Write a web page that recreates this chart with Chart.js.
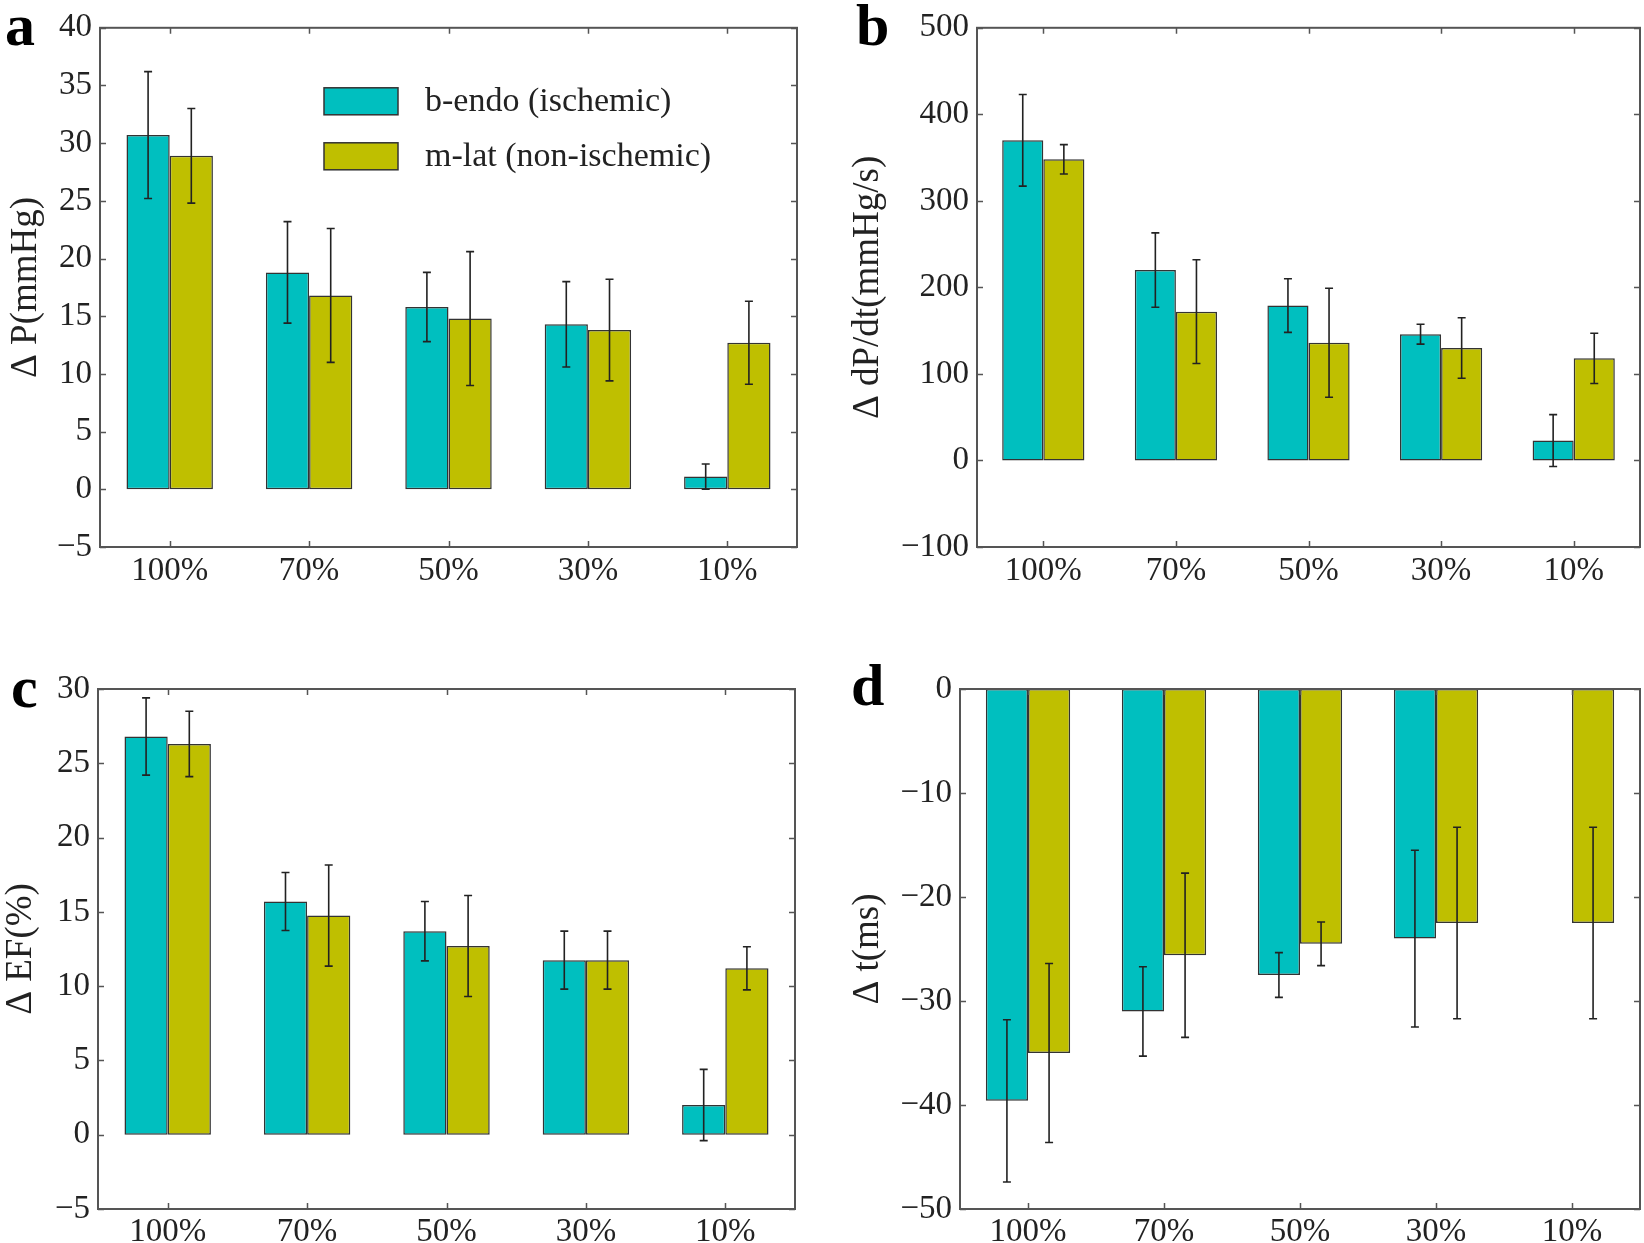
<!DOCTYPE html>
<html>
<head>
<meta charset="utf-8">
<script src="https://cdn.jsdelivr.net/npm/chart.js@4.4.1/dist/chart.umd.min.js"></script>
<style>
  html, body { margin: 0; padding: 0; background: #fff; }
  body { width: 1644px; height: 1243px; position: relative; overflow: hidden; font-family: 'Liberation Serif', 'DejaVu Serif', serif; }
  .panel { position: absolute; }
  .lbl { position: absolute; font-family: 'Liberation Serif', 'DejaVu Serif', serif; font-weight: bold; font-size: 60px; line-height: 60px; color: #000; }
</style>
</head>
<body>
<div class="panel" style="left:0;top:0;width:822px;height:620px"><canvas id="ca" width="822" height="620"></canvas></div>
<div class="panel" style="left:822px;top:0;width:822px;height:620px"><canvas id="cb" width="822" height="620"></canvas></div>
<div class="panel" style="left:0;top:620px;width:822px;height:623px"><canvas id="cc" width="822" height="623"></canvas></div>
<div class="panel" style="left:822px;top:620px;width:822px;height:623px"><canvas id="cd" width="822" height="623"></canvas></div>
<div class="lbl" style="left:5px;top:-5px">a</div>
<div class="lbl" style="left:856px;top:-5px">b</div>
<div class="lbl" style="left:11px;top:657px">c</div>
<div class="lbl" style="left:851px;top:655px">d</div>
<script>
// ---- data ----
const categories = ['100%', '70%', '50%', '30%', '10%'];
const seriesNames = ['b-endo (ischemic)', 'm-lat (non-ischemic)'];

// panel a: ΔP (mmHg)
const dP_endo     = [30.7, 18.8, 15.8, 14.3, 1.1];
const dP_endo_err = [5.5, 4.4, 3.0, 3.7, 1.1];
const dP_lat      = [28.9, 16.8, 14.8, 13.8, 12.7];
const dP_lat_err  = [4.1, 5.8, 5.8, 4.4, 3.6];
const dP_ticks    = [-5, 0, 5, 10, 15, 20, 25, 30, 35, 40];

// panel b: ΔdP/dt (mmHg/s)
const dPdt_endo     = [370, 220, 179, 146, 23];
const dPdt_endo_err = [53, 43, 31, 11.5, 30];
const dPdt_lat      = [348, 172, 136, 130, 118];
const dPdt_lat_err  = [17, 60, 63, 35, 29];
const dPdt_ticks    = [-100, 0, 100, 200, 300, 400, 500];

// panel c: ΔEF (%)
const EF_endo     = [26.8, 15.7, 13.7, 11.75, 2.0];
const EF_endo_err = [2.6, 1.95, 2.0, 1.95, 2.4];
const EF_lat      = [26.3, 14.75, 12.7, 11.75, 11.2];
const EF_lat_err  = [2.2, 3.4, 3.4, 1.95, 1.45];
const EF_ticks    = [-5, 0, 5, 10, 15, 20, 25, 30];

// panel d: Δt (ms)
const dt_endo     = [-39.6, -31.0, -27.5, -24.0, 0];
const dt_endo_err = [7.8, 4.3, 2.15, 8.5, 0];
const dt_lat      = [-35.0, -25.6, -24.5, -22.5, -22.5];
const dt_lat_err  = [8.6, 7.9, 2.1, 9.2, 9.2];
const dt_ticks    = [-50, -40, -30, -20, -10, 0];

const seriesColors = ['#00bfbf', '#bfbf00'];
const FONT_FAMILY = "'Liberation Serif', 'DejaVu Serif', serif";

// ---- plugins ----
const errorBarsPlugin = {
  id: 'errorBars',
  afterDatasetsDraw(chart) {
    const ctx = chart.ctx, y = chart.scales.y;
    ctx.save();
    ctx.strokeStyle = '#222';
    ctx.lineWidth = 1.6;
    chart.data.datasets.forEach((ds, di) => {
      const meta = chart.getDatasetMeta(di);
      if (!ds.errorBars) return;
      meta.data.forEach((el, i) => {
        const e = ds.errorBars[i];
        if (!e) return;
        const v = ds.data[i];
        const x = el.x;
        const y1 = y.getPixelForValue(v + e), y2 = y.getPixelForValue(v - e);
        ctx.beginPath();
        ctx.moveTo(x, y1); ctx.lineTo(x, y2);
        ctx.moveTo(x - 4, y1); ctx.lineTo(x + 4, y1);
        ctx.moveTo(x - 4, y2); ctx.lineTo(x + 4, y2);
        ctx.stroke();
      });
    });
    ctx.restore();
  }
};

const framePlugin = {
  id: 'frame',
  afterDatasetsDraw(chart) {
    const ctx = chart.ctx, a = chart.chartArea, x = chart.scales.x, y = chart.scales.y;
    const L = 6;
    ctx.save();
    ctx.strokeStyle = '#555';
    ctx.lineWidth = 1.5;
    ctx.beginPath();
    x.ticks.forEach((t, i) => {
      const px = Math.round(x.getPixelForTick(i)) + 0.5;
      ctx.moveTo(px, a.bottom); ctx.lineTo(px, a.bottom - L);
      ctx.moveTo(px, a.top); ctx.lineTo(px, a.top + L);
    });
    y.ticks.forEach((t, i) => {
      const py = Math.round(y.getPixelForTick(i)) + 0.5;
      ctx.moveTo(a.left, py); ctx.lineTo(a.left + L, py);
      ctx.moveTo(a.right, py); ctx.lineTo(a.right - L, py);
    });
    ctx.stroke();
    ctx.lineWidth = 2;
    ctx.strokeRect(a.left, a.top, a.right - a.left, a.bottom - a.top);
    ctx.restore();
  }
};

const legendPlugin = {
  id: 'innerLegend',
  afterDraw(chart, args, opts) {
    if (!opts || !opts.show) return;
    const ctx = chart.ctx, a = chart.chartArea;
    ctx.save();
    chart.data.datasets.forEach((ds, i) => {
      const bx = a.left + 224, by = a.top + 60 + i * 55, bw = 74, bh = 27;
      ctx.fillStyle = ds.backgroundColor;
      ctx.fillRect(bx, by, bw, bh);
      ctx.strokeStyle = '#333';
      ctx.lineWidth = 1.5;
      ctx.strokeRect(bx, by, bw, bh);
      ctx.fillStyle = '#222';
      ctx.font = "34px " + FONT_FAMILY;
      ctx.textBaseline = 'middle';
      ctx.textAlign = 'left';
      ctx.fillText(ds.label, bx + 101, by + bh / 2 + 1);
    });
    ctx.restore();
  }
};

function fmt(v) { return v < 0 ? '\u2212' + Math.abs(v) : String(v); }

function makeChart(id, cfg) {
  const tickFont = { family: FONT_FAMILY, size: 33 };
  new Chart(document.getElementById(id), {
    type: 'bar',
    data: {
      labels: categories,
      datasets: [
        { label: seriesNames[0], data: cfg.a, errorBars: cfg.ae, backgroundColor: seriesColors[0],
          borderColor: '#333', borderWidth: 1.5, borderSkipped: false,
          categoryPercentage: 0.62, barPercentage: 1.0 },
        { label: seriesNames[1], data: cfg.b, errorBars: cfg.be, backgroundColor: seriesColors[1],
          borderColor: '#333', borderWidth: 1.5, borderSkipped: false,
          categoryPercentage: 0.62, barPercentage: 1.0 }
      ]
    },
    options: {
      responsive: false,
      animation: false,
      events: [],
      layout: { padding: { left: 0, top: cfg.padTop, right: cfg.padRight, bottom: 0 } },
      plugins: {
        legend: { display: false },
        tooltip: { enabled: false },
        innerLegend: { show: !!cfg.legend }
      },
      scales: {
        x: {
          grid: { display: false, drawTicks: false },
          border: { display: false },
          ticks: { font: tickFont, color: '#222', padding: cfg.xPad, maxRotation: 0, autoSkip: false },
          afterFit: s => { s.height = cfg.xH; }
        },
        y: {
          min: cfg.ticks[0], max: cfg.ticks[cfg.ticks.length - 1],
          grid: { display: false, drawTicks: false },
          border: { display: false },
          ticks: { font: tickFont, color: '#222', padding: 8, callback: v => fmt(v) },
          afterBuildTicks: s => { s.ticks = cfg.ticks.map(v => ({ value: v })); },
          afterFit: s => { s.width = cfg.yW; },
          title: { display: true, text: cfg.title, color: '#222',
                   font: { family: FONT_FAMILY, size: 37, lineHeight: 1.0 },
                   padding: { top: cfg.titlePad, bottom: 0 } }
        }
      }
    },
    plugins: [errorBarsPlugin, framePlugin, legendPlugin]
  });
}

function drawAll() {
  makeChart('ca', { a: dP_endo, ae: dP_endo_err, b: dP_lat, be: dP_lat_err, ticks: dP_ticks,
    title: '\u0394 P(mmHg)', yW: 100, xH: 73, padTop: 26, padRight: 25, titlePad: 7.5, xPad: 5, legend: true });
  makeChart('cb', { a: dPdt_endo, ae: dPdt_endo_err, b: dPdt_lat, be: dPdt_lat_err, ticks: dPdt_ticks,
    title: '\u0394 dP/dt(mmHg/s)', yW: 155, xH: 73, padTop: 27, padRight: 4, titlePad: 27.5, xPad: 5 });
  makeChart('cc', { a: EF_endo, ae: EF_endo_err, b: EF_lat, be: EF_lat_err, ticks: EF_ticks,
    title: '\u0394 EF(%)', yW: 98, xH: 34, padTop: 69, padRight: 27, titlePad: 2.5, xPad: 4 });
  makeChart('cd', { a: dt_endo, ae: dt_endo_err, b: dt_lat, be: dt_lat_err, ticks: dt_ticks,
    title: '\u0394 t(ms)', yW: 138, xH: 34, padTop: 69, padRight: 4, titlePad: 27.5, xPad: 4 });
}

if (document.fonts && document.fonts.load) {
  Promise.all([
    document.fonts.load("33px 'Liberation Serif'"),
    document.fonts.load("37px 'Liberation Serif'")
  ]).then(drawAll, drawAll);
} else {
  drawAll();
}
</script>
</body>
</html>
